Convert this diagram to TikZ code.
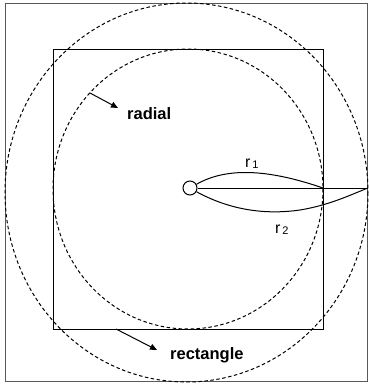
\documentclass[tikz,border=0pt]{standalone}
\usepackage{fontspec}
\setmainfont{Liberation Sans}
\usetikzlibrary{arrows.meta}
\begin{document}
\begin{tikzpicture}[x=1pt,y=-1pt,
  frame/.style={line width=0.9pt},
  dashcirc/.style={line width=1pt,dash pattern=on 3.5pt off 2.5pt},
  pointer/.style={line width=1pt,-{Triangle[length=7pt,width=6pt]}},
  lbl/.style={font=\bfseries\fontsize{16.5}{18}\selectfont,inner sep=0pt},
  rl/.style={font=\fontsize{16}{18}\selectfont,inner sep=0pt},
  curve/.style={line width=1pt}]
\newcommand{\subidx}[1]{\raisebox{-1pt}{\fontsize{11}{12}\selectfont\,#1}}
\useasboundingbox (0,0) rectangle (368,384);
% outer frame
\draw[frame,gray!70!black] (5,3) rectangle (367,381);
% inner square
\draw[frame] (53,49) rectangle (323,329);
% dashed circles
\draw[dashcirc] (188,189) ellipse [x radius=135, y radius=140];
\draw[dashcirc] (186.5,192.5) ellipse [x radius=181.5, y radius=189.5];
% hub
\node[circle,draw,line width=1pt,minimum size=14pt,inner sep=0pt,fill=white] (hub) at (190,188) {};
\coordinate (rend) at (368,188);
\coordinate (mid) at (323,188);
\draw[line width=0.8pt] (hub.east) -- (rend);
\draw[curve] (hub.30) .. controls (225,168) and (265,168) .. (mid);
\draw[curve] (hub.-30) .. controls (230,210) and (265,215) .. (300,210) .. controls (330,205) and (350,195) .. (rend);
% labels
\node[rl,anchor=base west] (r1) at (245,167) {r\subidx{1}};
\node[rl,anchor=base west] (r2) at (275,233) {r\subidx{2}};
\node[lbl,anchor=base west] (radial) at (127,119) {radial};
\node[lbl,anchor=base west] (rect) at (170,359) {rectangle};
\coordinate (ra) at (90,93);
\coordinate (rae) at (118,108);
\coordinate (rb) at (116,329);
\coordinate (rbe) at (157,350);
\draw[pointer] (ra) -- (rae);
\draw[pointer] (rb) -- (rbe);
\end{tikzpicture}
\end{document}
